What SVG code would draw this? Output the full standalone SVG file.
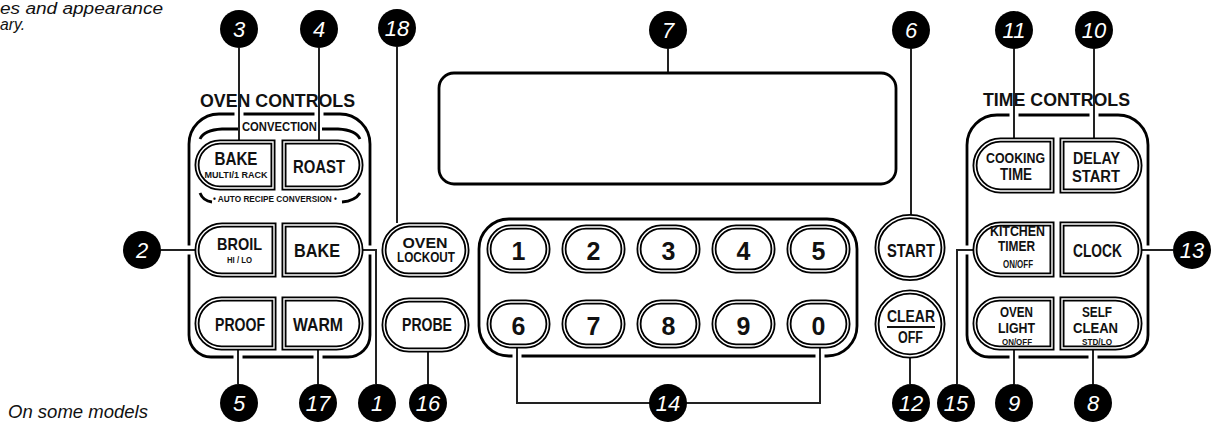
<svg xmlns="http://www.w3.org/2000/svg" xmlns:xlink="http://www.w3.org/1999/xlink" width="1214" height="425" viewBox="0 0 1214 425">
<style>
.bg{fill:#fff}
.frame{fill:none;stroke:#000;stroke-width:2.8}
.btn{fill:#fff;stroke:#000;stroke-width:5}
.btn2{fill:none;stroke:#fff;stroke-width:1.4}
.lbl{font-family:"Liberation Sans",Arial,sans-serif;font-weight:bold;fill:#111;text-anchor:middle}
.note{font-family:"Liberation Sans",Arial,sans-serif;font-style:italic;fill:#111}
.num{font-family:"Liberation Sans",Arial,sans-serif;font-style:italic;fill:#fff;text-anchor:middle;font-size:22px}
.dot{fill:#000}
.con{fill:none;stroke:#222;stroke-width:2}
.gap{fill:none;stroke:#fff;stroke-width:9}
</style>
<defs>
<path id="pCBAKE" d="M220 142 H273 V188 H220 A23 23 0 0 1 220 142 Z"/>
<path id="pROAST" d="M284 142 H338 A23 23 0 0 1 338 188 H284 Z"/>
<path id="pBROIL" d="M222 225 H274 V275 H222 A25 25 0 0 1 222 225 Z"/>
<path id="pBAKE" d="M284 225 H336 A25 25 0 0 1 336 275 H284 Z"/>
<path id="pPROOF" d="M221.5 299 H274 V348 H221.5 A24.5 24.5 0 0 1 221.5 299 Z"/>
<path id="pWARM" d="M284 299 H336.5 A24.5 24.5 0 0 1 336.5 348 H284 Z"/>
<path id="pCOOK" d="M1000.5 140 H1052 V191 H1000.5 A25.5 25.5 0 0 1 1000.5 140 Z"/>
<path id="pDELAY" d="M1062 140 H1114.5 A25.5 25.5 0 0 1 1114.5 191 H1062 Z"/>
<path id="pKITCH" d="M1000.5 224 H1052 V275 H1000.5 A25.5 25.5 0 0 1 1000.5 224 Z"/>
<path id="pCLOCK" d="M1062 224 H1114.5 A25.5 25.5 0 0 1 1114.5 275 H1062 Z"/>
<path id="pLIGHT" d="M999.5 299 H1052 V348 H999.5 A24.5 24.5 0 0 1 999.5 299 Z"/>
<path id="pCLEAN" d="M1062 299 H1115.5 A24.5 24.5 0 0 1 1115.5 348 H1062 Z"/>
<rect id="pLOCK" x="384" y="225" width="83" height="50" rx="25"/>
<rect id="pPROBE" x="384" y="300" width="83" height="50" rx="25"/>
<ellipse id="pSTART" cx="910" cy="247.5" rx="33" ry="31"/>
<ellipse id="pCLEAR" cx="910" cy="324" rx="33" ry="32"/>
<rect id="pN" x="0" y="0" width="59" height="44" rx="22"/>
</defs>
<rect class="bg" x="0" y="0" width="1214" height="425"/>

<g id="notes">
<text class="note" x="0" y="14" font-size="16" textLength="163" lengthAdjust="spacingAndGlyphs">es and appearance</text>
<text class="note" x="0" y="30" font-size="16" textLength="25" lengthAdjust="spacingAndGlyphs">ary.</text>
<text class="note" x="8" y="418" font-size="17.5" textLength="140" lengthAdjust="spacingAndGlyphs">On some models</text>
</g>

<g id="frames">
<path id="oven-frame" class="frame" d="M189 144 A30 30 0 0 1 219 114 H340 A30 30 0 0 1 370 144 V335 A22 22 0 0 1 348 357 H211 A22 22 0 0 1 189 335 Z"/>
<path class="frame" d="M200 139 Q204 130 222 129 H238 M322 129 H338 Q356 130 360 139"/>
<path class="frame" d="M200 193 Q203 201 212 202 M342 202 Q355 201 360 193"/>
<path id="time-frame" class="frame" d="M967 145 A30 30 0 0 1 997 115 H1118 A30 30 0 0 1 1148 145 V335 A22 22 0 0 1 1126 357 H989 A22 22 0 0 1 967 335 Z"/>
<rect id="keypad-frame" class="frame" x="479" y="219" width="378" height="137" rx="30"/>
<text class="lbl" x="277.5" y="107" font-size="18.5" textLength="155" lengthAdjust="spacingAndGlyphs">OVEN CONTROLS</text>
<text class="lbl" x="279.5" y="131" font-size="12.5" textLength="75" lengthAdjust="spacingAndGlyphs">CONVECTION</text>
<text class="lbl" x="275" y="202" font-size="8.5" textLength="124" lengthAdjust="spacingAndGlyphs">• AUTO RECIPE CONVERSION •</text>
<text class="lbl" x="1056.5" y="106" font-size="18.5" textLength="147" lengthAdjust="spacingAndGlyphs">TIME CONTROLS</text>
</g>

<g id="connectors">
<path class="gap" d="M239 109 V119 M319 109 V119 M185 250 H193 M366 250 H374 M238 353 V361 M318 353 V361 M1014 110 V120 M1094 110 V120 M963 250 H971 M1144 250 H1152 M1014 353 V361 M1093 353 V361 M517 352 V360 M820 352 V360"/>
<path class="con" d="M239 48 V140"/>
<path class="con" d="M319 48 V140"/>
<path class="con" d="M397 47 V223"/>
<path class="con" d="M668 49 V73"/>
<path class="con" d="M911 49 V216"/>
<path class="con" d="M1014 49 V138"/>
<path class="con" d="M1094 49 V138"/>
<path class="con" d="M161 250 H195"/>
<path class="con" d="M363 250 H376 V384"/>
<path class="con" d="M238 350 V384"/>
<path class="con" d="M318 350 V384"/>
<path class="con" d="M428 352 V384"/>
<path class="con" d="M517 348 V403 H820 V348"/>
<path class="con" d="M910 357 V384"/>
<path class="con" d="M973 250 H957 V384"/>
<path class="con" d="M1014 350 V384"/>
<path class="con" d="M1093 350 V384"/>
<path class="con" d="M1142 250 H1173"/>
</g>

<g id="display"><rect class="frame" x="439" y="73" width="457" height="111" rx="15"/></g>

<g id="btn-conv-bake"><use href="#pCBAKE" class="btn"/><use href="#pCBAKE" class="btn2"/>
<text class="lbl" x="236" y="165" font-size="18" textLength="43" lengthAdjust="spacingAndGlyphs">BAKE</text>
<text class="lbl" x="236" y="178" font-size="9.5" textLength="63" lengthAdjust="spacingAndGlyphs">MULTI/1 RACK</text></g>
<g id="btn-conv-roast"><use href="#pROAST" class="btn"/><use href="#pROAST" class="btn2"/>
<text class="lbl" x="319" y="173" font-size="18" textLength="52" lengthAdjust="spacingAndGlyphs">ROAST</text></g>
<g id="btn-broil"><use href="#pBROIL" class="btn"/><use href="#pBROIL" class="btn2"/>
<text class="lbl" x="239.5" y="250" font-size="17" textLength="45" lengthAdjust="spacingAndGlyphs">BROIL</text>
<text class="lbl" x="239.5" y="263" font-size="9" textLength="25" lengthAdjust="spacingAndGlyphs">HI / LO</text></g>
<g id="btn-bake"><use href="#pBAKE" class="btn"/><use href="#pBAKE" class="btn2"/>
<text class="lbl" x="317" y="257" font-size="18" textLength="46" lengthAdjust="spacingAndGlyphs">BAKE</text></g>
<g id="btn-proof"><use href="#pPROOF" class="btn"/><use href="#pPROOF" class="btn2"/>
<text class="lbl" x="240" y="331" font-size="18" textLength="50" lengthAdjust="spacingAndGlyphs">PROOF</text></g>
<g id="btn-warm"><use href="#pWARM" class="btn"/><use href="#pWARM" class="btn2"/>
<text class="lbl" x="318" y="331" font-size="18" textLength="50" lengthAdjust="spacingAndGlyphs">WARM</text></g>
<g id="btn-lockout"><use href="#pLOCK" class="btn"/><use href="#pLOCK" class="btn2"/>
<text class="lbl" x="425" y="248" font-size="14" textLength="45" lengthAdjust="spacingAndGlyphs">OVEN</text>
<text class="lbl" x="426" y="262" font-size="14" textLength="58" lengthAdjust="spacingAndGlyphs">LOCKOUT</text></g>
<g id="btn-probe"><use href="#pPROBE" class="btn"/><use href="#pPROBE" class="btn2"/>
<text class="lbl" x="427" y="331" font-size="18" textLength="50" lengthAdjust="spacingAndGlyphs">PROBE</text></g>

<g id="keypad">
<g id="key-1"><use href="#pN" x="489" y="227" class="btn"/><use href="#pN" x="489" y="227" class="btn2"/><text class="lbl" x="518.5" y="260" font-size="25">1</text></g>
<g id="key-2"><use href="#pN" x="564" y="227" class="btn"/><use href="#pN" x="564" y="227" class="btn2"/><text class="lbl" x="593.5" y="260" font-size="25">2</text></g>
<g id="key-3"><use href="#pN" x="639" y="227" class="btn"/><use href="#pN" x="639" y="227" class="btn2"/><text class="lbl" x="668.5" y="260" font-size="25">3</text></g>
<g id="key-4"><use href="#pN" x="714" y="227" class="btn"/><use href="#pN" x="714" y="227" class="btn2"/><text class="lbl" x="743.5" y="260" font-size="25">4</text></g>
<g id="key-5"><use href="#pN" x="789" y="227" class="btn"/><use href="#pN" x="789" y="227" class="btn2"/><text class="lbl" x="818.5" y="260" font-size="25">5</text></g>
<g id="key-6"><use href="#pN" x="489" y="302" class="btn"/><use href="#pN" x="489" y="302" class="btn2"/><text class="lbl" x="518.5" y="335" font-size="25">6</text></g>
<g id="key-7"><use href="#pN" x="564" y="302" class="btn"/><use href="#pN" x="564" y="302" class="btn2"/><text class="lbl" x="593.5" y="335" font-size="25">7</text></g>
<g id="key-8"><use href="#pN" x="639" y="302" class="btn"/><use href="#pN" x="639" y="302" class="btn2"/><text class="lbl" x="668.5" y="335" font-size="25">8</text></g>
<g id="key-9"><use href="#pN" x="714" y="302" class="btn"/><use href="#pN" x="714" y="302" class="btn2"/><text class="lbl" x="743.5" y="335" font-size="25">9</text></g>
<g id="key-0"><use href="#pN" x="789" y="302" class="btn"/><use href="#pN" x="789" y="302" class="btn2"/><text class="lbl" x="818.5" y="335" font-size="25">0</text></g>
</g>

<g id="btn-start"><use href="#pSTART" class="btn"/><use href="#pSTART" class="btn2"/>
<text class="lbl" x="911" y="257" font-size="18" textLength="48" lengthAdjust="spacingAndGlyphs">START</text></g>
<g id="btn-clear"><use href="#pCLEAR" class="btn"/><use href="#pCLEAR" class="btn2"/>
<text class="lbl" x="911" y="322" font-size="16.5" textLength="48" lengthAdjust="spacingAndGlyphs">CLEAR</text>
<line x1="887" y1="327" x2="935" y2="327" stroke="#111" stroke-width="2"/>
<text class="lbl" x="910.5" y="343" font-size="16" textLength="25" lengthAdjust="spacingAndGlyphs">OFF</text></g>

<g id="btn-cooking-time"><use href="#pCOOK" class="btn"/><use href="#pCOOK" class="btn2"/>
<text class="lbl" x="1015.5" y="163" font-size="14" textLength="59" lengthAdjust="spacingAndGlyphs">COOKING</text>
<text class="lbl" x="1016" y="180" font-size="16" textLength="32" lengthAdjust="spacingAndGlyphs">TIME</text></g>
<g id="btn-delay-start"><use href="#pDELAY" class="btn"/><use href="#pDELAY" class="btn2"/>
<text class="lbl" x="1096.5" y="164" font-size="16" textLength="47" lengthAdjust="spacingAndGlyphs">DELAY</text>
<text class="lbl" x="1096" y="182" font-size="16" textLength="48" lengthAdjust="spacingAndGlyphs">START</text></g>
<g id="btn-kitchen-timer"><use href="#pKITCH" class="btn"/><use href="#pKITCH" class="btn2"/>
<text class="lbl" x="1017.5" y="236" font-size="15" textLength="55" lengthAdjust="spacingAndGlyphs">KITCHEN</text>
<text class="lbl" x="1016.5" y="251" font-size="15" textLength="37" lengthAdjust="spacingAndGlyphs">TIMER</text>
<text class="lbl" x="1018" y="268" font-size="10" textLength="30" lengthAdjust="spacingAndGlyphs">ON/OFF</text></g>
<g id="btn-clock"><use href="#pCLOCK" class="btn"/><use href="#pCLOCK" class="btn2"/>
<text class="lbl" x="1097.5" y="257" font-size="18" textLength="49" lengthAdjust="spacingAndGlyphs">CLOCK</text></g>
<g id="btn-oven-light"><use href="#pLIGHT" class="btn"/><use href="#pLIGHT" class="btn2"/>
<text class="lbl" x="1016.5" y="317" font-size="14" textLength="33" lengthAdjust="spacingAndGlyphs">OVEN</text>
<text class="lbl" x="1016.5" y="333" font-size="15" textLength="37" lengthAdjust="spacingAndGlyphs">LIGHT</text>
<text class="lbl" x="1017" y="345" font-size="9" textLength="30" lengthAdjust="spacingAndGlyphs">ON/OFF</text></g>
<g id="btn-self-clean"><use href="#pCLEAN" class="btn"/><use href="#pCLEAN" class="btn2"/>
<text class="lbl" x="1097" y="317" font-size="14" textLength="30" lengthAdjust="spacingAndGlyphs">SELF</text>
<text class="lbl" x="1095.5" y="333" font-size="15" textLength="45" lengthAdjust="spacingAndGlyphs">CLEAN</text>
<text class="lbl" x="1097" y="345" font-size="9" textLength="30" lengthAdjust="spacingAndGlyphs">STD/LO</text></g>

<g id="callouts">
<g id="callout-3"><circle class="dot" cx="239" cy="29" r="19"/><text class="num" x="239" y="37">3</text></g>
<g id="callout-4"><circle class="dot" cx="319" cy="29" r="19"/><text class="num" x="319" y="37">4</text></g>
<g id="callout-18"><circle class="dot" cx="397" cy="28" r="19"/><text class="num" x="397" y="36">18</text></g>
<g id="callout-7"><circle class="dot" cx="668" cy="30" r="19"/><text class="num" x="668" y="38">7</text></g>
<g id="callout-6"><circle class="dot" cx="911" cy="30" r="19"/><text class="num" x="911" y="38">6</text></g>
<g id="callout-11"><circle class="dot" cx="1014" cy="30" r="19"/><text class="num" x="1014" y="38">11</text></g>
<g id="callout-10"><circle class="dot" cx="1094" cy="30" r="19"/><text class="num" x="1094" y="38">10</text></g>
<g id="callout-2"><circle class="dot" cx="142" cy="250" r="19"/><text class="num" x="142" y="258">2</text></g>
<g id="callout-13"><circle class="dot" cx="1192" cy="250" r="19"/><text class="num" x="1192" y="258">13</text></g>
<g id="callout-5"><circle class="dot" cx="239" cy="403" r="19"/><text class="num" x="239" y="411">5</text></g>
<g id="callout-17"><circle class="dot" cx="318" cy="403" r="19"/><text class="num" x="318" y="411">17</text></g>
<g id="callout-1"><circle class="dot" cx="377" cy="403" r="19"/><text class="num" x="377" y="411">1</text></g>
<g id="callout-16"><circle class="dot" cx="428" cy="403" r="19"/><text class="num" x="428" y="411">16</text></g>
<g id="callout-14"><circle class="dot" cx="668" cy="403" r="19"/><text class="num" x="668" y="411">14</text></g>
<g id="callout-12"><circle class="dot" cx="911" cy="403" r="19"/><text class="num" x="911" y="411">12</text></g>
<g id="callout-15"><circle class="dot" cx="956" cy="403" r="19"/><text class="num" x="956" y="411">15</text></g>
<g id="callout-9"><circle class="dot" cx="1014" cy="403" r="19"/><text class="num" x="1014" y="411">9</text></g>
<g id="callout-8"><circle class="dot" cx="1093" cy="403" r="19"/><text class="num" x="1093" y="411">8</text></g>
</g>
</svg>
